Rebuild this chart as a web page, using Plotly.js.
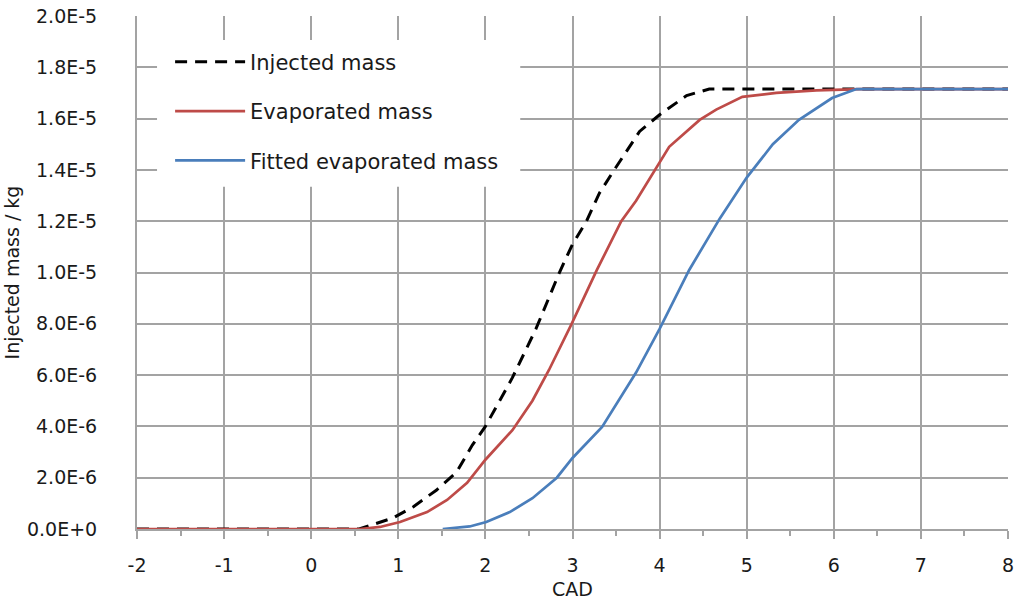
<!DOCTYPE html>
<html>
<head>
<meta charset="utf-8">
<script src="https://cdn.plot.ly/plotly-3.0.1.min.js"></script>
<style>html,body{margin:0;padding:0;background:#fff;}#chart{width:1016px;height:602px;}</style>
</head>
<body>
<div id="chart"></div>
<script>
// values in units of 1e-6 kg
const UNIT = 1e-6;
const injectedX = [-2, 0.55, 0.94, 1.17, 1.44, 1.67, 1.85, 2.0, 2.31, 2.58, 2.85, 3.0, 3.16, 3.31, 3.46, 3.77, 4.0, 4.31, 4.57, 5.0, 6.0, 7.0, 8.0];
const injectedY = [0, 0, 0.43, 0.86, 1.52, 2.22, 3.27, 4.0, 5.9, 7.8, 10.0, 11.1, 12.0, 13.1, 13.9, 15.5, 16.15, 16.9, 17.15, 17.15, 17.15, 17.15, 17.15];

const evaporatedX = [-2, 0.56, 0.79, 1.02, 1.33, 1.56, 1.79, 2.0, 2.31, 2.54, 2.73, 2.99, 3.28, 3.56, 3.73, 3.96, 4.11, 4.46, 4.65, 4.95, 5.34, 5.8, 6.14, 6.3, 7.0, 8.0];
const evaporatedY = [0, 0, 0.08, 0.27, 0.66, 1.13, 1.8, 2.7, 3.85, 5.0, 6.2, 8.0, 10.1, 12.0, 12.8, 14.1, 14.9, 15.95, 16.35, 16.85, 17.0, 17.1, 17.15, 17.15, 17.15, 17.15];

const fittedX = [1.51, 1.82, 2.01, 2.28, 2.54, 2.82, 3.0, 3.11, 3.34, 3.73, 4.0, 4.34, 4.69, 5.0, 5.3, 5.6, 5.98, 6.26, 7.0, 8.0];
const fittedY = [0, 0.1, 0.27, 0.66, 1.2, 2.0, 2.77, 3.15, 3.98, 6.1, 7.8, 10.1, 12.1, 13.7, 15.0, 15.95, 16.8, 17.15, 17.15, 17.15];

const seriesNames = ['Injected mass', 'Evaporated mass', 'Fitted evaporated mass'];
const yTickVals = [0, 2e-6, 4e-6, 6e-6, 8e-6, 1.0e-5, 1.2e-5, 1.4e-5, 1.6e-5, 1.8e-5, 2.0e-5];
const yTickText = ['0.0E+0', '2.0E-6', '4.0E-6', '6.0E-6', '8.0E-6', '1.0E-5', '1.2E-5', '1.4E-5', '1.6E-5', '1.8E-5', '2.0E-5'];
const xTickVals = [-2, -1, 0, 1, 2, 3, 4, 5, 6, 7, 8];
const xTickText = ['-2', '-1', '0', '1', '2', '3', '4', '5', '6', '7', '8'];

const scale = arr => arr.map(v => v * UNIT);
const FONT = 'DejaVu Sans, sans-serif';
const GRID = '#a3a3a3';

const traces = [
  {x: injectedX, y: scale(injectedY), name: seriesNames[0], legendgroup: 'a', mode: 'lines',
   line: {color: '#000000', width: 3, dash: '12px,8px'}},
  {x: evaporatedX, y: scale(evaporatedY), name: seriesNames[1], legendgroup: 'b', mode: 'lines',
   line: {color: '#be4b48', width: 2.7}},
  {x: fittedX, y: scale(fittedY), name: seriesNames[2], legendgroup: 'c', mode: 'lines',
   line: {color: '#4a7ebb', width: 2.7}}
];

const layout = {
  width: 1016, height: 602,
  margin: {l: 137, r: 8, t: 16, b: 73},
  paper_bgcolor: '#ffffff', plot_bgcolor: '#ffffff',
  font: {family: FONT, size: 19, color: '#1a1a1a'},
  showlegend: true,
  legend: {
    x: 0.038, y: 0.95, xanchor: 'left', yanchor: 'top',
    bgcolor: 'rgba(0,0,0,0)', borderwidth: 0,
    font: {family: FONT, size: 21, color: '#1a1a1a'},
    traceorder: 'grouped', tracegroupgap: 19, itemwidth: 70
  },
  shapes: [
    {type: 'rect', xref: 'paper', yref: 'paper', x0: 0.023, x1: 0.44, y0: 0.667, y1: 0.953,
     fillcolor: '#ffffff', line: {width: 0}, layer: 'above'}
  ],
  xaxis: {
    range: [-2, 8], tickmode: 'array', tickvals: xTickVals, ticktext: xTickText,
    showgrid: true, gridcolor: GRID, gridwidth: 2,
    showline: true, linecolor: GRID, linewidth: 2,
    ticks: 'outside', ticklen: 8, tickwidth: 2, tickcolor: GRID,
    ticklabelstandoff: 10,
    minor: {dtick: 0.5, ticks: 'outside', ticklen: 5, tickwidth: 2, tickcolor: GRID, showgrid: false},
    zeroline: false,
    tickfont: {family: FONT, size: 19, color: '#1a1a1a'},
    title: {text: 'CAD', font: {family: FONT, size: 19, color: '#1a1a1a'}, standoff: 8}
  },
  yaxis: {
    range: [0, 2.0e-5], tickmode: 'array', tickvals: yTickVals, ticktext: yTickText,
    showgrid: true, gridcolor: GRID, gridwidth: 2,
    showline: true, linecolor: GRID, linewidth: 2,
    ticks: '', zeroline: false,
    ticklabelstandoff: 34,
    tickfont: {family: FONT, size: 19, color: '#1a1a1a'},
    title: {text: 'Injected mass / kg', font: {family: FONT, size: 19, color: '#1a1a1a'}, standoff: 2}
  }
};

Plotly.newPlot('chart', traces, layout, {displayModeBar: false, staticPlot: true});
</script>
</body>
</html>
